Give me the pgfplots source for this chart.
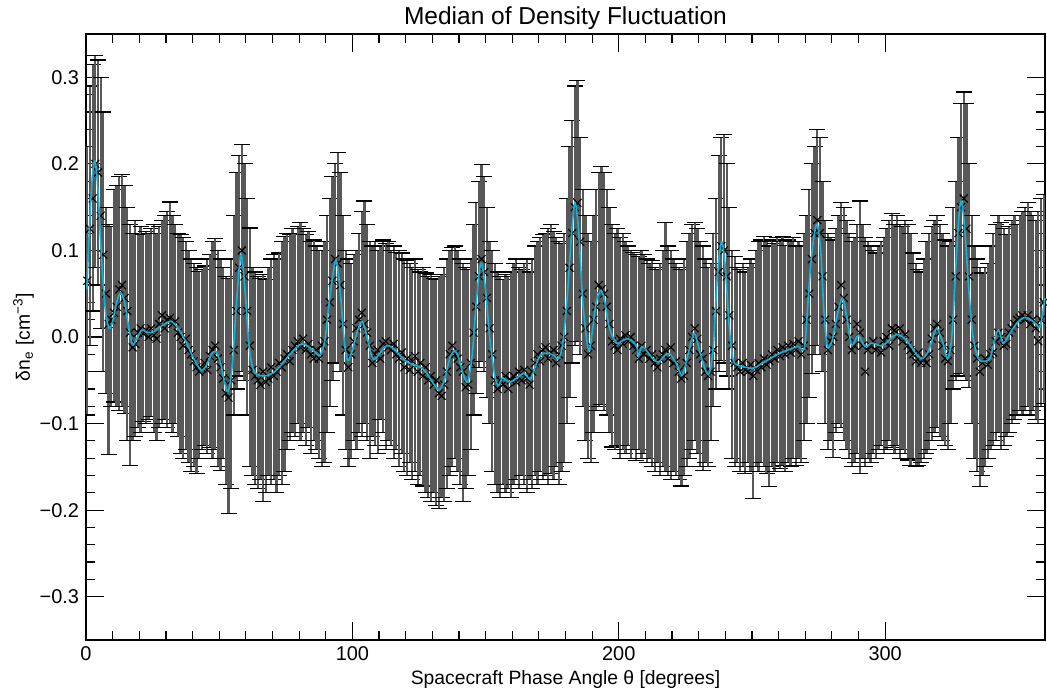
\documentclass[border=0pt]{standalone}
\usepackage{fontspec}
\setmainfont{Liberation Sans}
\usepackage{pgfplots}
\usepackage{pgfplotstable}
\pgfplotsset{compat=1.18}
\definecolor{cyanline}{RGB}{20,178,214}
\definecolor{bargray}{RGB}{88,88,88}

\pgfplotstableread{
x m u l
0.5 0.065 0.22 -0.09
1.5 0.125 0.29 -0.01
2.5 0.16 0.315 0.03
3.5 0.2 0.325 0.08
4.5 0.19 0.32 0.06
5.5 0.14 0.30 0.01
6.5 0.095 0.26 -0.04
7.5 0.05 0.15 -0.065
8.5 0.015 0.13 -0.136
9.5 0.02 0.128 -0.08
10.5 0.028 0.17 -0.075
11.5 0.035 0.175 -0.08
12.5 0.055 0.185 -0.085
13.5 0.06 0.188 -0.08
14.5 0.045 0.175 -0.088
15.5 0.03 0.15 -0.12
16.5 0.005 0.13 -0.148
17.5 -0.012 0.12 -0.12
18.5 -0.008 0.135 -0.115
19.5 0.005 0.12 -0.105
20.5 0.01 0.128 -0.11
21.5 0.004 0.118 -0.098
22.5 0.008 0.122 -0.1
23.5 0.0 0.12 -0.095
24.5 0.01 0.125 -0.092
25.5 0.002 0.13 -0.11
26.5 -0.002 0.12 -0.12
27.5 0.015 0.128 -0.105
28.5 0.025 0.135 -0.1
29.5 0.01 0.14 -0.095
30.5 0.02 0.145 -0.105
31.5 0.022 0.156 -0.1
32.5 0.015 0.14 -0.11
33.5 0.018 0.13 -0.1
34.5 0.005 0.12 -0.115
35.5 0.0 0.118 -0.135
36.5 -0.01 0.115 -0.14
37.5 -0.002 0.11 -0.13
38.5 -0.015 0.1 -0.145
39.5 -0.02 0.09 -0.155
40.5 -0.028 0.085 -0.15
41.5 -0.035 0.08 -0.158
42.5 -0.04 0.076 -0.14
43.5 -0.036 0.078 -0.13
44.5 -0.03 0.082 -0.125
45.5 -0.038 0.09 -0.135
46.5 -0.022 0.095 -0.128
47.5 -0.015 0.11 -0.14
48.5 -0.01 0.114 -0.13
49.5 -0.025 0.1 -0.15
50.5 -0.035 0.09 -0.154
51.5 -0.048 0.08 -0.14
52.5 -0.065 0.07 -0.17
53.5 -0.07 0.068 -0.204
54.5 -0.05 0.09 -0.175
55.5 -0.015 0.14 -0.09
56.5 0.03 0.19 -0.06
57.5 0.08 0.21 -0.045
58.5 0.1 0.222 -0.04
59.5 0.07 0.2 -0.05
60.5 0.03 0.16 -0.09
61.5 -0.01 0.126 -0.15
62.5 -0.038 0.08 -0.16
63.5 -0.045 0.075 -0.17
64.5 -0.05 0.07 -0.175
65.5 -0.055 0.068 -0.165
66.5 -0.04 0.072 -0.19
67.5 -0.052 0.066 -0.18
68.5 -0.048 0.08 -0.16
69.5 -0.035 0.09 -0.17
70.5 -0.045 0.095 -0.165
71.5 -0.04 0.09 -0.18
72.5 -0.03 0.097 -0.16
73.5 -0.035 0.11 -0.17
74.5 -0.025 0.116 -0.155
75.5 -0.02 0.12 -0.13
76.5 -0.028 0.118 -0.12
77.5 -0.015 0.125 -0.11
78.5 -0.01 0.12 -0.115
79.5 -0.005 0.128 -0.1
80.5 -0.012 0.132 -0.12
81.5 -0.002 0.125 -0.11
82.5 -0.015 0.118 -0.125
83.5 -0.008 0.122 -0.105
84.5 -0.02 0.11 -0.135
85.5 -0.025 0.112 -0.12
86.5 -0.015 0.105 -0.13
87.5 -0.025 0.1 -0.14
88.5 -0.01 0.1 -0.15
89.5 -0.005 0.11 -0.145
90.5 0.02 0.14 -0.11
91.5 0.04 0.16 -0.08
92.5 0.065 0.185 -0.05
93.5 0.09 0.2 -0.03
94.5 0.085 0.213 -0.03
95.5 0.06 0.19 -0.04
96.5 0.015 0.14 -0.09
97.5 -0.015 0.1 -0.13
98.5 -0.035 0.09 -0.15
99.5 -0.02 0.085 -0.14
100.5 -0.005 0.095 -0.12
101.5 0.01 0.1 -0.13
102.5 0.02 0.12 -0.11
103.5 0.028 0.145 -0.115
104.5 0.015 0.157 -0.1
105.5 0.005 0.13 -0.12
106.5 -0.01 0.11 -0.14
107.5 -0.03 0.105 -0.115
108.5 -0.02 0.11 -0.125
109.5 -0.015 0.1 -0.135
110.5 -0.025 0.105 -0.095
111.5 -0.008 0.112 -0.11
112.5 -0.005 0.108 -0.13
113.5 -0.012 0.11 -0.12
114.5 -0.015 0.1 -0.125
115.5 -0.008 0.105 -0.14
116.5 -0.02 0.098 -0.13
117.5 -0.025 0.1 -0.15
118.5 -0.018 0.097 -0.135
119.5 -0.035 0.09 -0.155
120.5 -0.025 0.088 -0.16
121.5 -0.038 0.085 -0.145
122.5 -0.028 0.08 -0.165
123.5 -0.022 0.09 -0.155
124.5 -0.04 0.078 -0.17
125.5 -0.03 0.075 -0.16
126.5 -0.045 0.08 -0.172
127.5 -0.035 0.074 -0.18
128.5 -0.05 0.07 -0.185
129.5 -0.045 0.072 -0.19
130.5 -0.055 0.068 -0.18
131.5 -0.05 0.066 -0.195
132.5 -0.065 0.07 -0.198
133.5 -0.068 0.072 -0.185
134.5 -0.055 0.08 -0.19
135.5 -0.04 0.09 -0.175
136.5 -0.02 0.1 -0.16
137.5 -0.01 0.103 -0.15
138.5 -0.02 0.105 -0.14
139.5 -0.025 0.1 -0.155
140.5 -0.035 0.09 -0.17
141.5 -0.04 0.085 -0.19
142.5 -0.058 0.08 -0.175
143.5 -0.055 0.078 -0.16
144.5 -0.03 0.09 -0.13
145.5 0.005 0.13 -0.09
146.5 0.035 0.155 -0.065
147.5 0.07 0.18 -0.035
148.5 0.09 0.199 -0.028
149.5 0.075 0.185 -0.04
150.5 0.045 0.15 -0.07
151.5 0.01 0.11 -0.1
152.5 -0.02 0.1 -0.155
153.5 -0.05 0.085 -0.17
154.5 -0.06 0.075 -0.18
155.5 -0.05 0.07 -0.185
156.5 -0.055 0.066 -0.17
157.5 -0.045 0.072 -0.18
158.5 -0.06 0.07 -0.175
159.5 -0.05 0.075 -0.185
160.5 -0.045 0.085 -0.17
161.5 -0.052 0.09 -0.165
162.5 -0.04 0.08 -0.175
163.5 -0.05 0.078 -0.16
164.5 -0.038 0.085 -0.17
165.5 -0.048 0.09 -0.18
166.5 -0.055 0.075 -0.165
167.5 -0.04 0.09 -0.175
168.5 -0.03 0.105 -0.16
169.5 -0.02 0.11 -0.17
170.5 -0.028 0.115 -0.155
171.5 -0.015 0.118 -0.165
172.5 -0.012 0.12 -0.16
173.5 -0.025 0.125 -0.17
174.5 -0.018 0.13 -0.158
175.5 -0.015 0.122 -0.165
176.5 -0.03 0.115 -0.15
177.5 -0.02 0.11 -0.17
178.5 -0.01 0.108 -0.155
179.5 0.0 0.12 -0.145
180.5 0.03 0.16 -0.1
181.5 0.08 0.22 -0.07
182.5 0.12 0.25 -0.03
183.5 0.15 0.29 -0.01
184.5 0.155 0.296 -0.005
185.5 0.11 0.23 -0.02
186.5 0.05 0.17 -0.08
187.5 0.01 0.14 -0.12
188.5 -0.02 0.12 -0.14
189.5 -0.01 0.11 -0.145
190.5 0.02 0.14 -0.11
191.5 0.035 0.17 -0.085
192.5 0.06 0.19 -0.08
193.5 0.055 0.197 -0.078
194.5 0.05 0.19 -0.085
195.5 0.035 0.17 -0.09
196.5 0.015 0.15 -0.11
197.5 -0.005 0.13 -0.127
198.5 -0.01 0.12 -0.13
199.5 -0.015 0.125 -0.125
200.5 -0.002 0.115 -0.14
201.5 -0.008 0.12 -0.13
202.5 0.002 0.11 -0.135
203.5 -0.005 0.105 -0.125
204.5 0.0 0.1 -0.14
205.5 -0.01 0.098 -0.13
206.5 -0.015 0.095 -0.143
207.5 -0.025 0.093 -0.13
208.5 -0.01 0.1 -0.14
209.5 -0.02 0.095 -0.135
210.5 -0.015 0.09 -0.145
211.5 -0.025 0.085 -0.14
212.5 -0.02 0.088 -0.15
213.5 -0.03 0.08 -0.155
214.5 -0.035 0.078 -0.145
215.5 -0.025 0.085 -0.16
216.5 -0.02 0.1 -0.15
217.5 -0.015 0.132 -0.155
218.5 -0.025 0.105 -0.16
219.5 -0.012 0.1 -0.165
220.5 -0.03 0.09 -0.155
221.5 -0.028 0.085 -0.16
222.5 -0.04 0.08 -0.165
223.5 -0.048 0.078 -0.172
224.5 -0.045 0.09 -0.16
225.5 -0.03 0.11 -0.15
226.5 -0.015 0.12 -0.14
227.5 0.0 0.13 -0.13
228.5 0.01 0.132 -0.12
229.5 -0.002 0.125 -0.135
230.5 -0.02 0.11 -0.15
231.5 -0.025 0.105 -0.154
232.5 -0.04 0.09 -0.145
233.5 -0.045 0.08 -0.15
234.5 -0.04 0.085 -0.12
235.5 -0.015 0.12 -0.08
236.5 0.03 0.16 -0.06
237.5 0.075 0.21 -0.04
238.5 0.105 0.23 -0.027
239.5 0.1 0.234 -0.03
240.5 0.07 0.2 -0.045
241.5 0.025 0.15 -0.06
242.5 -0.01 0.1 -0.14
243.5 -0.03 0.093 -0.15
244.5 -0.035 0.08 -0.145
245.5 -0.04 0.078 -0.155
246.5 -0.03 0.085 -0.15
247.5 -0.038 0.075 -0.158
248.5 -0.04 0.08 -0.145
249.5 -0.032 0.09 -0.155
250.5 -0.045 0.085 -0.187
251.5 -0.038 0.1 -0.15
252.5 -0.03 0.11 -0.155
253.5 -0.035 0.112 -0.145
254.5 -0.025 0.116 -0.15
255.5 -0.032 0.11 -0.158
256.5 -0.028 0.105 -0.173
257.5 -0.02 0.112 -0.15
258.5 -0.025 0.108 -0.155
259.5 -0.015 0.115 -0.145
260.5 -0.022 0.11 -0.152
261.5 -0.012 0.116 -0.148
262.5 -0.02 0.106 -0.155
263.5 -0.01 0.112 -0.145
264.5 -0.018 0.11 -0.15
265.5 -0.008 0.115 -0.14
266.5 -0.015 0.105 -0.148
267.5 -0.005 0.11 -0.14
268.5 -0.02 0.105 -0.145
269.5 -0.01 0.12 -0.12
270.5 0.02 0.14 -0.1
271.5 0.05 0.17 -0.07
272.5 0.09 0.2 -0.042
273.5 0.12 0.22 -0.02
274.5 0.135 0.24 -0.01
275.5 0.12 0.23 -0.02
276.5 0.07 0.18 -0.04
277.5 0.02 0.135 -0.1
278.5 -0.015 0.12 -0.13
279.5 -0.005 0.115 -0.12
280.5 0.0 0.112 -0.139
281.5 0.015 0.125 -0.11
282.5 0.035 0.14 -0.1
283.5 0.06 0.155 -0.105
284.5 0.045 0.15 -0.12
285.5 0.02 0.135 -0.13
286.5 0.0 0.12 -0.14
287.5 -0.015 0.11 -0.15
288.5 -0.01 0.115 -0.145
289.5 0.015 0.13 -0.135
290.5 0.005 0.157 -0.158
291.5 -0.01 0.13 -0.14
292.5 -0.04 0.115 -0.15
293.5 -0.015 0.11 -0.14
294.5 -0.01 0.105 -0.145
295.5 -0.005 0.1 -0.135
296.5 -0.015 0.097 -0.14
297.5 -0.01 0.105 -0.13
298.5 -0.018 0.11 -0.125
299.5 -0.005 0.115 -0.135
300.5 0.0 0.125 -0.13
301.5 -0.01 0.135 -0.12
302.5 0.01 0.143 -0.128
303.5 0.008 0.13 -0.135
304.5 0.0 0.14 -0.125
305.5 0.01 0.13 -0.14
306.5 -0.005 0.128 -0.13
307.5 0.003 0.135 -0.135
308.5 -0.01 0.13 -0.142
309.5 -0.015 0.12 -0.148
310.5 -0.02 0.097 -0.14
311.5 -0.028 0.085 -0.15
312.5 -0.018 0.078 -0.148
313.5 -0.03 0.075 -0.145
314.5 -0.025 0.09 -0.14
315.5 -0.03 0.11 -0.135
316.5 -0.02 0.12 -0.13
317.5 -0.002 0.128 -0.12
318.5 0.01 0.135 -0.11
319.5 0.015 0.14 -0.105
320.5 0.005 0.13 -0.115
321.5 -0.01 0.12 -0.12
322.5 -0.025 0.112 -0.125
323.5 -0.028 0.105 -0.13
324.5 -0.015 0.11 -0.1
325.5 0.02 0.15 -0.06
326.5 0.07 0.18 -0.05
327.5 0.12 0.23 -0.045
328.5 0.15 0.27 -0.042
329.5 0.16 0.283 -0.045
330.5 0.125 0.27 -0.05
331.5 0.07 0.2 -0.058
332.5 0.02 0.14 -0.1
333.5 -0.01 0.105 -0.14
334.5 -0.025 0.09 -0.155
335.5 -0.04 0.08 -0.173
336.5 -0.03 0.074 -0.16
337.5 -0.025 0.08 -0.15
338.5 -0.032 0.085 -0.14
339.5 -0.02 0.105 -0.13
340.5 -0.018 0.12 -0.125
341.5 -0.005 0.13 -0.12
342.5 0.005 0.14 -0.11
343.5 0.0 0.132 -0.13
344.5 -0.01 0.125 -0.125
345.5 -0.008 0.118 -0.115
346.5 0.005 0.128 -0.11
347.5 0.01 0.135 -0.1
348.5 0.015 0.14 -0.095
349.5 0.02 0.13 -0.09
350.5 0.022 0.14 -0.085
351.5 0.025 0.145 -0.09
352.5 0.02 0.15 -0.085
353.5 0.025 0.155 -0.08
354.5 0.015 0.145 -0.09
355.5 0.02 0.14 -0.085
356.5 0.01 0.135 -0.095
357.5 -0.005 0.145 -0.1
358.5 0.02 0.16 -0.08
359.5 0.04 0.165 -0.077
}\data

\pgfplotstableread{
x c
0.3 0.055
1.5 0.14
2.5 0.19
3.4 0.203
4.5 0.17
5.5 0.11
6.5 0.06
7.5 0.025
8.8 0.010
10 0.018
11.5 0.040
13 0.051
14.5 0.040
16 0.012
17.5 -0.009
19 -0.002
20.9 0.008
22.5 0.006
24.7 0.005
27 0.010
30 0.016
32.2 0.018
35 0.008
37.8 -0.007
40 -0.022
43 -0.038
45 -0.034
47 -0.020
48.8 -0.017
50.5 -0.030
52 -0.052
53.4 -0.063
55 -0.030
56.5 0.040
58.2 0.095
59.8 0.050
61.2 -0.010
62.8 -0.038
65 -0.044
67.2 -0.045
70 -0.042
72.8 -0.034
76 -0.022
79 -0.012
81 -0.008
83 -0.010
85.5 -0.016
87.8 -0.021
89.7 -0.003
91.5 0.045
93.8 0.089
95.5 0.050
96.8 0.000
98.2 -0.027
100 -0.015
102 0.008
103.7 0.018
105.5 0.000
107 -0.020
108.2 -0.026
110 -0.020
112 -0.012
113.7 -0.010
116 -0.015
118 -0.022
120 -0.028
122.3 -0.031
124 -0.033
126 -0.036
128 -0.042
130 -0.052
132.6 -0.061
134.5 -0.050
136.5 -0.025
138.3 -0.016
140 -0.025
141.5 -0.042
143.3 -0.052
145 -0.020
146.5 0.040
148.2 0.085
149.8 0.060
151.7 -0.005
153.5 -0.045
154.8 -0.056
156.3 -0.047
157.5 -0.050
159.2 -0.052
161.5 -0.048
164.2 -0.042
165.5 -0.045
166.7 -0.049
168 -0.040
169.8 -0.025
171.5 -0.019
173.5 -0.019
175.5 -0.021
177.3 -0.025
178.8 -0.011
180.5 0.040
182.3 0.120
183.6 0.155
185 0.120
186.5 0.040
188.6 -0.015
190 0.005
191.5 0.040
193.3 0.054
194.8 0.040
196.5 0.010
199.2 -0.007
201.5 -0.004
203.6 -0.002
205.5 -0.006
206.8 -0.012
207.4 -0.022
208.6 -0.011
210.5 -0.016
212.5 -0.024
214.8 -0.029
217 -0.022
219 -0.019
221.5 -0.030
223.8 -0.044
226 -0.020
228.3 0.004
230.5 -0.018
232.5 -0.038
234 -0.042
235.5 -0.010
237 0.070
238.6 0.110
240 0.080
241.5 0.010
243 -0.027
245 -0.033
247.5 -0.035
250.5 -0.036
253.5 -0.031
256.8 -0.025
259 -0.021
261.8 -0.017
264.5 -0.014
267.4 -0.011
269 -0.015
270 -0.005
271.8 0.074
273.2 0.115
274.5 0.130
275.8 0.100
277 0.030
278.3 -0.011
280 -0.005
282 0.025
283.9 0.045
285.5 0.025
287.4 -0.009
289.9 0.002
292.4 -0.011
294.9 -0.007
296.5 -0.008
298 -0.010
300 -0.008
302 -0.002
304.5 0.003
307 -0.001
309.5 -0.010
311.5 -0.019
313.7 -0.025
316 -0.018
317.5 -0.005
319.3 0.010
321.5 -0.005
323.4 -0.025
325 0.000
326.5 0.080
327.7 0.140
328.7 0.157
330 0.120
331.5 0.050
333 0.000
335 -0.025
337 -0.028
339.3 -0.025
341 -0.005
342.5 0.008
344.3 -0.007
346 0.000
348 0.010
350 0.018
351.8 0.022
353.5 0.022
355.5 0.018
357 0.014
358.1 0.011
359 0.025
360 0.045
}\curve

\begin{document}
\begin{tikzpicture}
\begin{axis}[
  set layers,
  scale only axis, width=479.5bp, height=303bp,
  xmin=0, xmax=360, ymin=-0.35, ymax=0.35,
  xtick={0,100,200,300}, xticklabels={0,100,200,300},
  minor x tick num=9,
  ytick={-0.3,-0.2,-0.1,0,0.1,0.2,0.3},
  yticklabels={−0.3,−0.2,−0.1,0.0,0.1,0.2,0.3},
  minor y tick num=4,
  tick align=inside, xtick pos=both, ytick pos=both,
  major tick length=9bp, minor tick length=4.5bp,
  every tick/.style={black, line width=0.6bp},
  axis line style={line width=0.75bp},
  tick label style={font=\fontsize{10}{12}\selectfont},
  xlabel={Spacecraft Phase Angle θ [degrees]},
  ylabel={δn\textsubscript{e} [cm\textsuperscript{−3}]},
  label style={font=\fontsize{9.7}{11}\selectfont},
  xlabel style={yshift=2bp},
  ylabel style={yshift=-4bp},
  title={Median of Density Fluctuation},
  title style={font=\fontsize{12.3}{14}\selectfont, yshift=-7.5bp},
  every error bar/.style={draw=bargray, line width=1.15bp, solid},
  clip=true,
]
\addplot+[draw=none, mark=x, mark size=2.8bp, mark options={black, line width=0.55bp, solid},
  error bars/.cd, y dir=both, y explicit,
  error bar style={draw=bargray, line width=1.15bp, solid},
  error mark=-,
  error mark options={draw=black, rotate=90, line width=0.6bp, mark size=4bp}]
  table[x=x, y=m, y error plus expr=\thisrow{u}-\thisrow{m}, y error minus expr=\thisrow{m}-\thisrow{l}] {\data};
\addplot[on layer=axis foreground, cyanline, line width=0.8bp, smooth, tension=0.5, mark=none] table[x=x, y=c] {\curve};
\end{axis}
\pgfresetboundingbox
\path ([shift={(-43bp,-27bp)}]current axis.south west) rectangle ([shift={(1bp,17bp)}]current axis.north east);
\end{tikzpicture}
\end{document}
